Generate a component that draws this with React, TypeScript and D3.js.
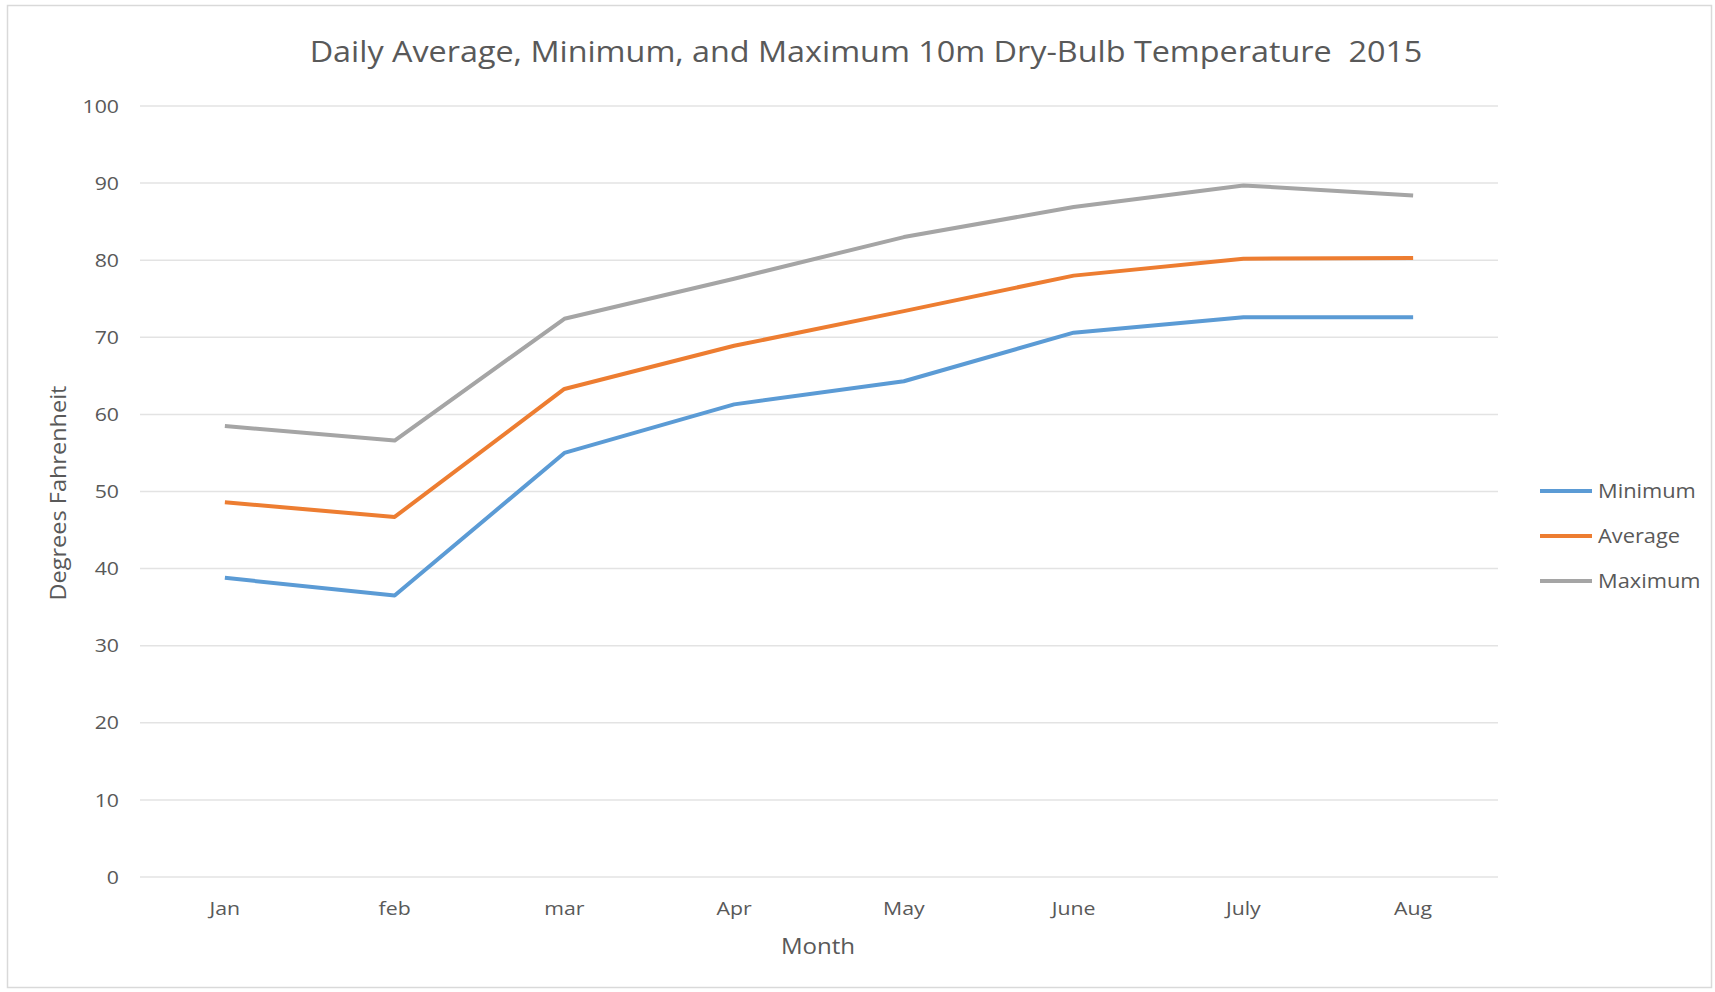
import React from "react";
import * as d3 from "d3";

const months = ["Jan", "feb", "mar", "Apr", "May", "June", "July", "Aug"];
const minimum = [38.8, 36.5, 55.0, 61.3, 64.3, 70.6, 72.6, 72.6];
const average = [48.6, 46.7, 63.3, 68.9, 73.4, 78.0, 80.2, 80.3];
const maximum = [58.5, 56.6, 72.4, 77.6, 83.0, 86.9, 89.7, 88.4];
const yTicks = [0, 10, 20, 30, 40, 50, 60, 70, 80, 90, 100];

const series = [
  { name: "Minimum", values: minimum, color: "#5B9BD5" },
  { name: "Average", values: average, color: "#ED7D31" },
  { name: "Maximum", values: maximum, color: "#A5A5A5" },
];

const W = 1715;
const H = 992;
const FONT = "'Open Sans', Lato, sans-serif";
const TXT = "#595959";
const STRETCH = 1.12;

type STextProps = {
  x: number;
  y: number;
  size: number;
  anchor?: "start" | "middle" | "end";
  rotate?: number;
  sx?: number;
  dy?: string;
  children: React.ReactNode;
};

function SText({ x, y, size, anchor = "start", rotate = 0, sx = STRETCH, dy = "0.35em", children }: STextProps) {
  return (
    <g transform={`translate(${x},${y}) rotate(${rotate}) scale(${sx},1)`}>
      <text
        x={0}
        y={0}
        dy={dy}
        textAnchor={anchor}
        fontFamily={FONT}
        fontSize={size}
        fill={TXT}
        style={{ whiteSpace: "pre" }}
      >
        {children}
      </text>
    </g>
  );
}

export default function App() {
  const x = d3.scaleBand<string>().domain(months).range([140, 1498]).paddingInner(0).paddingOuter(0);
  const cx = (m: string) => (x(m) as number) + x.bandwidth() / 2;
  const y = d3.scaleLinear().domain([0, 100]).range([877, 106]);
  const line = d3
    .line<number>()
    .x((_, i) => cx(months[i]))
    .y((d) => y(d));

  return (
    <div style={{ position: "absolute", left: 0, top: 0 }}>
      <svg width={W} height={H} style={{ display: "block", background: "#fff" }}>
        <rect x={7.5} y={5.5} width={1704} height={982} fill="#fff" stroke="#D9D9D9" strokeWidth={1.5} />
        <SText x={866} y={62} size={28.5} anchor="middle" sx={1.135} dy="0">
          {"Daily Average, Minimum, and Maximum 10m Dry-Bulb Temperature  2015"}
        </SText>
        {yTicks.map((t) => (
          <g key={t}>
            <line x1={140} x2={1498} y1={y(t)} y2={y(t)} stroke="#E3E3E3" strokeWidth={1.5} />
            <SText x={119} y={y(t)} size={19} anchor="end">
              {String(t)}
            </SText>
          </g>
        ))}
        {months.map((m) => (
          <SText key={m} x={cx(m)} y={908} size={19} anchor="middle">
            {m}
          </SText>
        ))}
        <SText x={818} y={946} size={21.5} anchor="middle">
          Month
        </SText>
        <SText x={59} y={y(49.8)} size={21} anchor="middle" rotate={-90}>
          Degrees Fahrenheit
        </SText>
        {series.map((s) => (
          <path
            key={s.name}
            d={line(s.values) as string}
            fill="none"
            stroke={s.color}
            strokeWidth={4}
            strokeLinejoin="round"
          />
        ))}
        {series.map((s, i) => {
          const ly = 491 + i * 45;
          return (
            <g key={s.name}>
              <line x1={1540} x2={1592} y1={ly} y2={ly} stroke={s.color} strokeWidth={4} />
              <SText x={1598} y={ly} size={19.5}>
                {s.name}
              </SText>
            </g>
          );
        })}
      </svg>
    </div>
  );
}
